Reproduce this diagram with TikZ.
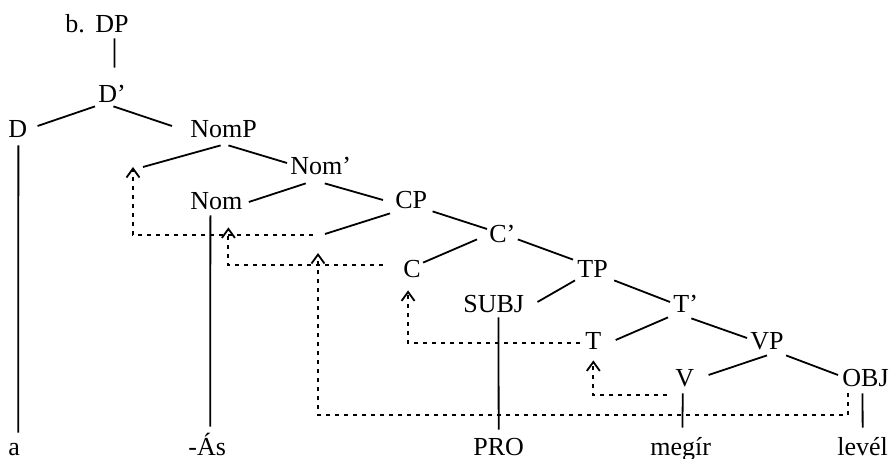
\documentclass[tikz,border=0pt]{standalone}
\usepackage{fontspec}
\setmainfont{Liberation Serif}
\usetikzlibrary{calc,arrows.meta}
\begin{document}
\begin{tikzpicture}[x=0.5pt,y=-0.5pt,
  lab/.style={anchor=base west, inner sep=0pt, text height=9pt, text depth=0pt, font=\fontsize{13}{15}\selectfont},
  br/.style={line width=0.9pt},
  mv/.style={line width=1pt, dash pattern=on 2pt off 2.5pt, -{Straight Barb[length=4.5pt,width=6.5pt,line width=0.9pt]}}]
\useasboundingbox (0,0) rectangle (895,459);
% nodes
\node[lab] (b) at (65,33) {b.};
\node[lab] (DP) at (95,33) {DP};
\node[lab] (Dbar) at (98,103) {D’};
\node[lab] (D) at (8,138) {D};
\node[lab] (NomP) at (190,138) {NomP};
\node[lab] (Nombar) at (290,175) {Nom’};
\node[lab] (Nom) at (190,210) {Nom};
\node[lab] (CP) at (395,209) {CP};
\node[lab] (Cbar) at (489,243) {C’};
\node[lab] (C) at (403,278) {C};
\node[lab] (TP) at (577,278) {TP};
\node[lab] (SUBJ) at (463,313) {SUBJ};
\node[lab] (Tbar) at (673,313) {T’};
\node[lab] (T) at (585,350) {T};
\node[lab] (VP) at (750,350) {VP};
\node[lab] (V) at (675,387) {V};
\node[lab] (OBJ) at (842,387) {OBJ};
\node[lab] (a) at (8,456) {a};
\node[lab] (As) at (188,456) {-Ás};
\node[lab] (PRO) at (473,456) {PRO};
\node[lab] (megir) at (650,456) {megír};
\node[lab] (level) at (837,456) {levél};
\coordinate (nompspec) at (133,167);
\coordinate (cpspec) at (318,236);
% branches
\draw[br] ($(DP.south)+(2.4,5)$) -- ($(Dbar.north)+(2.3,-17)$);
\draw[br] ($(Dbar.south west)+(-3,3)$) -- ($(D.east)+(10,-3)$);
\draw[br] ($(Dbar.south)+(1.3,3)$) -- ($(NomP.west)+(-18,-3)$);
\draw[br] ($(NomP.south)+(-3,7)$) -- ($(nompspec)+(10,0)$);
\draw[br] ($(NomP.south)+(4.8,7)$) -- ($(Nombar.west)+(-3,-3)$);
\draw[br] ($(Nombar.south)+(-15,8)$) -- ($(Nom.east)+(6,1)$);
\draw[br] ($(Nombar.south)+(4,8)$) -- ($(CP.west)+(-12,0)$);
\draw[br] ($(CP.south west)+(-5,4)$) -- ($(cpspec)+(7,-2)$);
\draw[br] ($(CP.south east)+(5,2)$) -- ($(Cbar.west)+(-2,-5)$);
\draw[br] ($(Cbar.south west)+(-12,-4)$) -- ($(C.north east)+(2,3)$);
\draw[br] ($(Cbar.south east)+(2,-4)$) -- ($(TP.north west)+(-4,0)$);
\draw[br] ($(TP.south west)+(-2,2)$) -- ($(SUBJ.east)+(13,-2)$);
\draw[br] ($(TP.south east)+(6,2)$) -- ($(Tbar.west)+(-3,-2)$);
\draw[br] ($(SUBJ.south)+(4.7,4)$) -- ($(PRO.north)+(0,-8)$);
\draw[br] ($(Tbar.south west)+(-5,4)$) -- ($(T.east)+(14,-1)$);
\draw[br] ($(Tbar.south east)+(-7,5)$) -- ($(VP.west)+(-3,-3)$);
\draw[br] ($(VP.south)+(0,5)$) -- ($(V.east)+(14,-3)$);
\draw[br] ($(VP.south east)+(2,5)$) -- ($(OBJ.west)+(-4,-3)$);
\draw[br] ($(V.south)+(-2,6)$) -- ($(megir.north)+(1.7,-10)$);
\draw[br] ($(OBJ.south)+(-3,6)$) -- ($(level.north)+(0,-10)$);
\draw[br] ($(D.south)+(0.6,7)$) -- ($(a.north)+(4,-5)$);
\draw[br] ($(Nom.south)+(-6,5)$) -- ($(As.north)+(3,-11)$);
% movement paths
\draw[mv] ($(OBJ.south west)+(6,6)$) -- ++(0,22) -| ($(cpspec)+(0,17)$);
\draw[mv] ($(cpspec)+(-5,-1)$) -| (nompspec);
\draw[mv] ($(C.west)+(-20,-4)$) -| ($(Nom.south)+(12,17)$);
\draw[mv] ($(T.west)+(-5,2)$) -| ($(C.south)+(-4,12)$);
\draw[mv] ($(V.south west)+(-8,8)$) -| ($(T.south)+(0,10)$);
\end{tikzpicture}
\end{document}
